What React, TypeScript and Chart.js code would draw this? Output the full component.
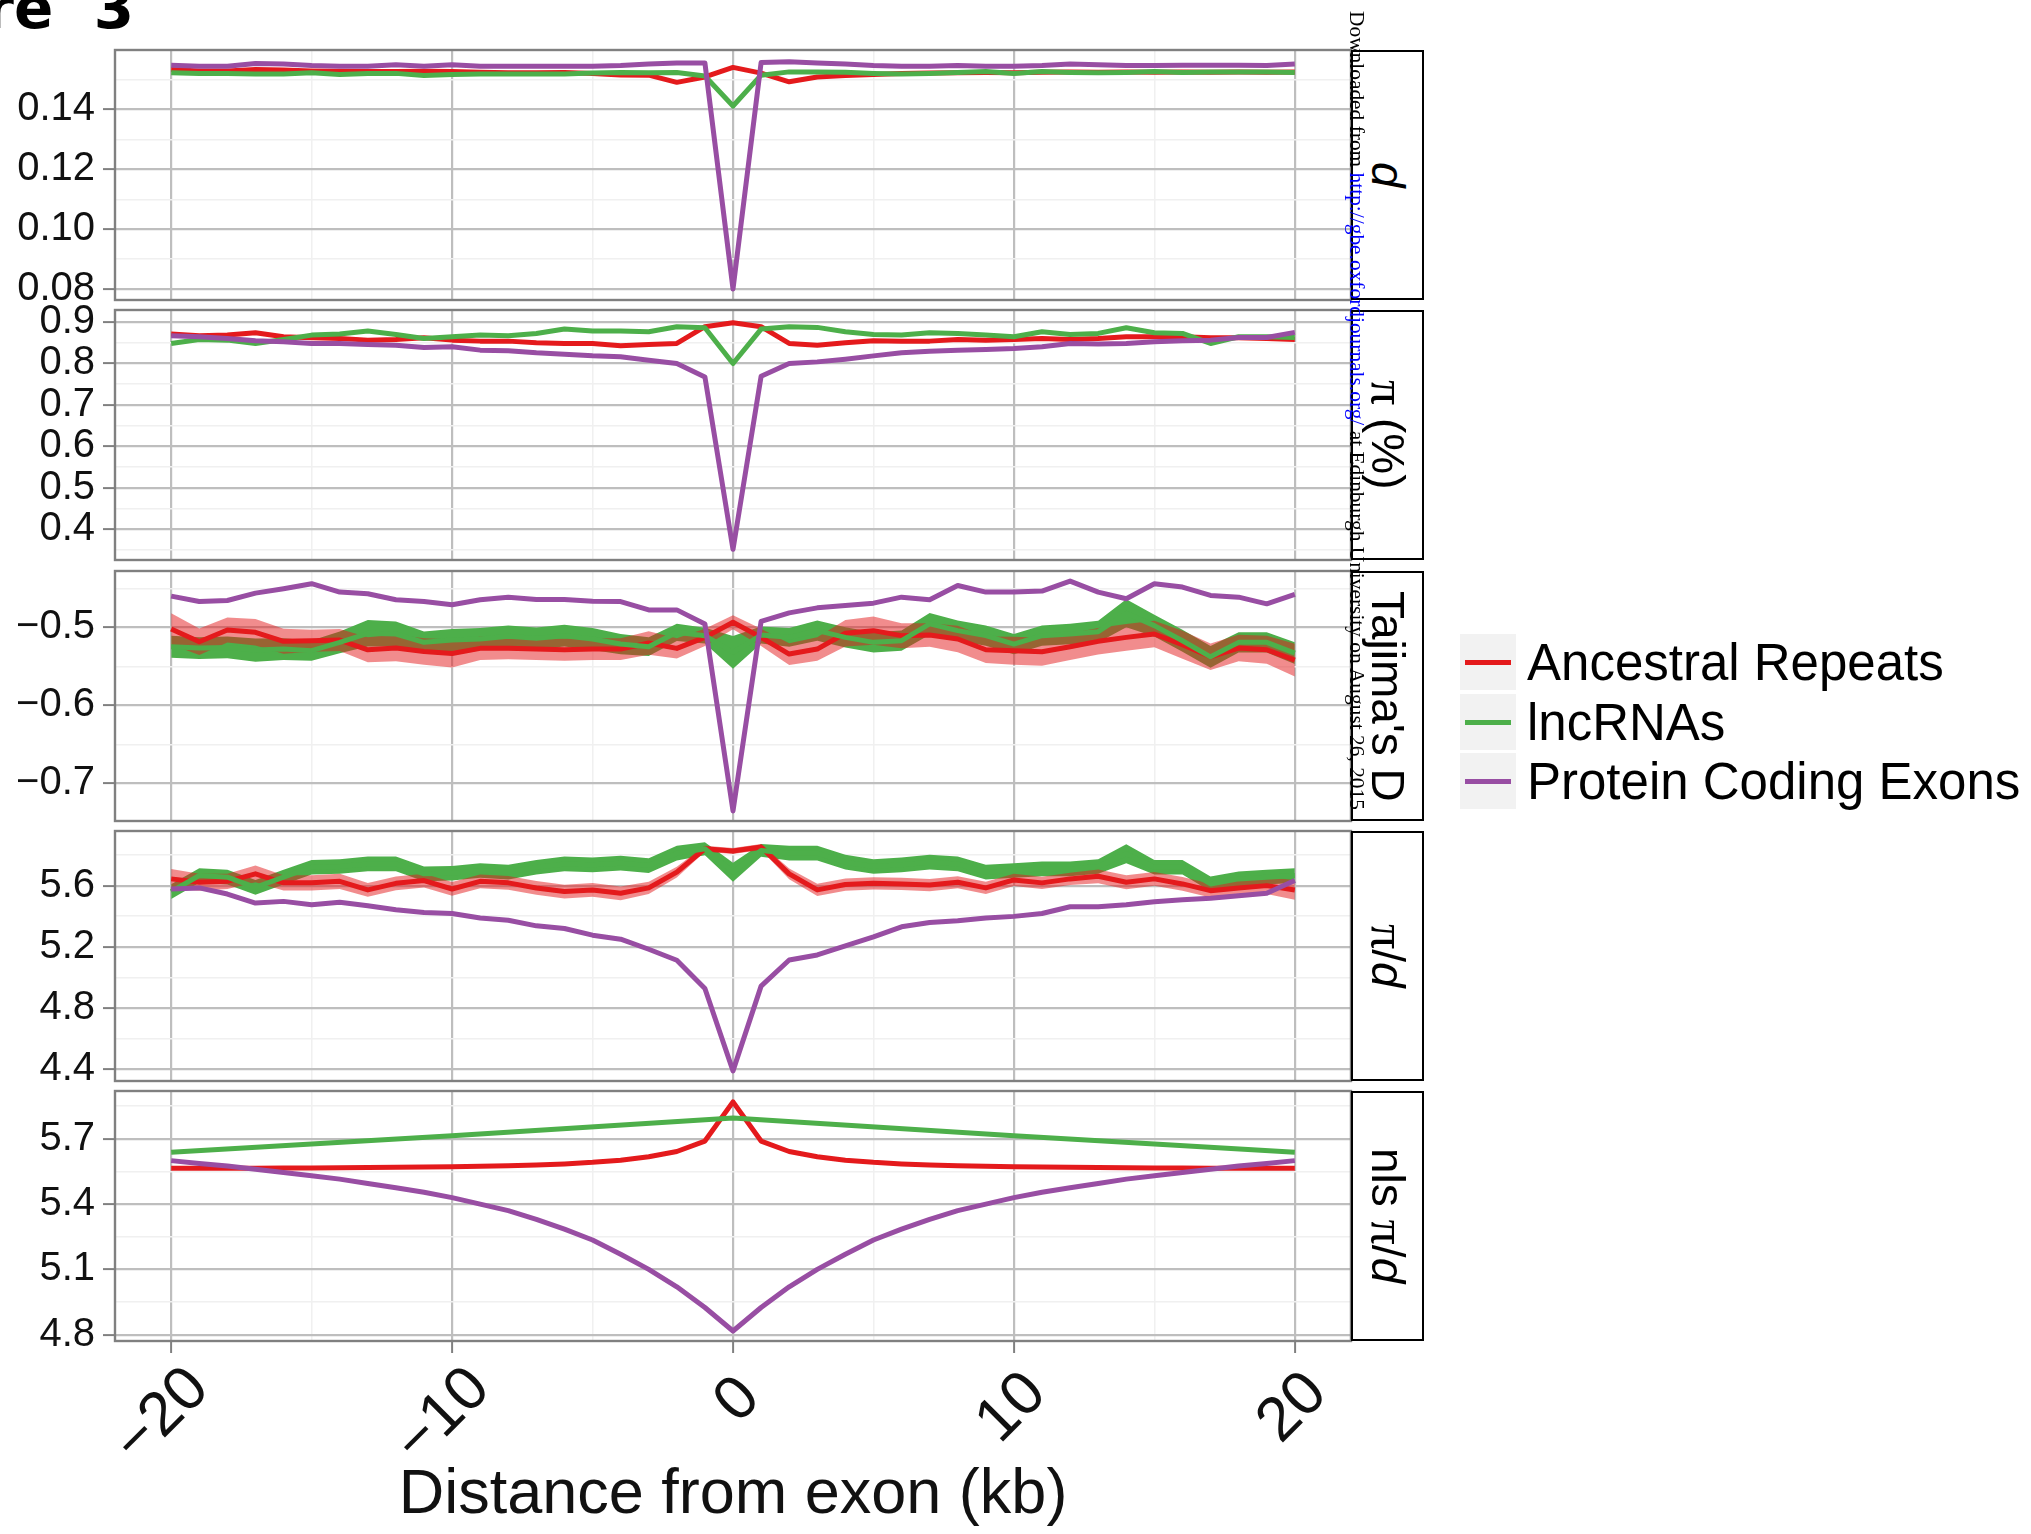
import React, { useEffect, useRef } from "react";
import { Chart, registerables } from "chart.js";
Chart.register(...registerables);

// ---------------- data ----------------
const xKb = [-20,-19,-18,-17,-16,-15,-14,-13,-12,-11,-10,-9,-8,-7,-6,-5,-4,-3,-2,-1,0,1,2,3,4,5,6,7,8,9,10,11,12,13,14,15,16,17,18,19,20];

// d
const dRed = [0.1533,0.1528,0.1528,0.1533,0.1531,0.1528,0.1527,0.1526,0.1526,0.1527,0.1526,0.1524,0.1522,0.1522,0.1523,0.1520,0.1515,0.1514,0.1490,0.1508,0.1540,0.1521,0.1492,0.1508,0.1513,0.1516,0.1520,0.1521,0.1522,0.1523,0.1522,0.1524,0.1525,0.1524,0.1525,0.1524,0.1525,0.1524,0.1525,0.1524,0.1525];
const dGreen = [0.1522,0.1520,0.1520,0.1518,0.1518,0.1522,0.1516,0.1520,0.1520,0.1513,0.1516,0.1518,0.1518,0.1518,0.1518,0.1521,0.1523,0.1522,0.1523,0.1511,0.1411,0.1514,0.1525,0.1525,0.1524,0.1520,0.1518,0.1520,0.1523,0.1526,0.1520,0.1526,0.1523,0.1522,0.1523,0.1526,0.1523,0.1525,0.1525,0.1525,0.1523];
const dPurple = [0.1547,0.1544,0.1544,0.1553,0.1551,0.1546,0.1544,0.1544,0.1549,0.1544,0.1549,0.1544,0.1544,0.1544,0.1544,0.1544,0.1546,0.1551,0.1555,0.1555,0.0801,0.1556,0.1559,0.1555,0.1551,0.1546,0.1544,0.1544,0.1546,0.1544,0.1544,0.1546,0.1551,0.1549,0.1546,0.1546,0.1547,0.1547,0.1547,0.1546,0.1551];

// pi (%)
const piRed = [0.8702,0.8661,0.8677,0.8734,0.8637,0.8613,0.8597,0.8556,0.8573,0.8613,0.8556,0.8532,0.8532,0.8492,0.8476,0.8476,0.8419,0.8452,0.8476,0.8879,0.8976,0.8879,0.8476,0.8435,0.8492,0.8540,0.8532,0.8532,0.8573,0.8556,0.8573,0.8597,0.8573,0.8597,0.8637,0.8637,0.8637,0.8613,0.8613,0.8597,0.8573];
const piGreen = [0.8476,0.8573,0.8556,0.8476,0.8573,0.8677,0.8702,0.8774,0.8694,0.8597,0.8637,0.8677,0.8661,0.8718,0.8823,0.8774,0.8774,0.8758,0.8879,0.8855,0.7992,0.8823,0.8879,0.8863,0.8758,0.8694,0.8677,0.8734,0.8718,0.8677,0.8637,0.8758,0.8694,0.8718,0.8855,0.8734,0.8718,0.8476,0.8637,0.8637,0.8621];
const piPurple = [0.8661,0.8637,0.8597,0.8540,0.8516,0.8476,0.8476,0.8452,0.8435,0.8379,0.8395,0.8315,0.8298,0.8250,0.8218,0.8177,0.8153,0.8073,0.7992,0.7669,0.3516,0.7685,0.7992,0.8032,0.8097,0.8177,0.8250,0.8290,0.8315,0.8331,0.8355,0.8395,0.8476,0.8460,0.8476,0.8516,0.8540,0.8556,0.8621,0.8621,0.8742];

// Tajima's D
const tajRed = [-0.5021,-0.5185,-0.5034,-0.5064,-0.5180,-0.5172,-0.5163,-0.5288,-0.5266,-0.5309,-0.5335,-0.5270,-0.5270,-0.5279,-0.5288,-0.5279,-0.5279,-0.5202,-0.5270,-0.5129,-0.4936,-0.5129,-0.5343,-0.5279,-0.5077,-0.5043,-0.5107,-0.5099,-0.5150,-0.5288,-0.5300,-0.5313,-0.5249,-0.5180,-0.5129,-0.5086,-0.5223,-0.5378,-0.5266,-0.5288,-0.5421];
const tajRedHalf = [0.020,0.017,0.016,0.017,0.016,0.014,0.014,0.016,0.017,0.017,0.018,0.015,0.014,0.014,0.014,0.014,0.014,0.015,0.013,0.011,0.009,0.011,0.014,0.015,0.017,0.018,0.016,0.015,0.017,0.017,0.018,0.018,0.017,0.017,0.017,0.017,0.018,0.017,0.017,0.018,0.021];
const tajGreen = [-0.5249,-0.5266,-0.5258,-0.5292,-0.5279,-0.5300,-0.5193,-0.5077,-0.5086,-0.5193,-0.5163,-0.5150,-0.5116,-0.5142,-0.5107,-0.5150,-0.5215,-0.5249,-0.5064,-0.5107,-0.5322,-0.5099,-0.5129,-0.5043,-0.5129,-0.5193,-0.5172,-0.4957,-0.5043,-0.5107,-0.5215,-0.5107,-0.5086,-0.5056,-0.4820,-0.4979,-0.5172,-0.5378,-0.5193,-0.5193,-0.5330];
const tajGreenHalf = [0.014,0.014,0.014,0.015,0.014,0.013,0.014,0.017,0.016,0.014,0.014,0.014,0.014,0.014,0.014,0.014,0.013,0.012,0.011,0.010,0.021,0.011,0.012,0.013,0.013,0.013,0.013,0.014,0.013,0.013,0.013,0.013,0.013,0.014,0.018,0.014,0.014,0.014,0.013,0.013,0.014];
const tajPurple = [-0.4601,-0.4670,-0.4657,-0.4562,-0.4506,-0.4442,-0.4549,-0.4571,-0.4648,-0.4670,-0.4712,-0.4648,-0.4614,-0.4644,-0.4644,-0.4665,-0.4670,-0.4777,-0.4777,-0.4957,-0.7352,-0.4923,-0.4815,-0.4751,-0.4721,-0.4691,-0.4614,-0.4648,-0.4464,-0.4549,-0.4549,-0.4536,-0.4408,-0.4549,-0.4635,-0.4442,-0.4485,-0.4592,-0.4614,-0.4700,-0.4579];

// pi / d
const pdRed = [5.644,5.622,5.628,5.677,5.618,5.618,5.628,5.572,5.615,5.633,5.578,5.628,5.618,5.585,5.561,5.572,5.550,5.585,5.688,5.841,5.826,5.852,5.677,5.572,5.607,5.615,5.611,5.604,5.622,5.585,5.637,5.618,5.644,5.661,5.622,5.644,5.611,5.567,5.585,5.600,5.572];
const pdRedHalf = [0.065,0.055,0.050,0.055,0.050,0.050,0.050,0.045,0.045,0.045,0.045,0.045,0.045,0.045,0.045,0.045,0.045,0.040,0.035,0.020,0.020,0.020,0.035,0.040,0.040,0.040,0.040,0.040,0.040,0.040,0.040,0.040,0.040,0.045,0.045,0.045,0.045,0.045,0.050,0.055,0.065];
const pdGreen = [5.561,5.666,5.655,5.589,5.655,5.720,5.725,5.742,5.742,5.677,5.681,5.699,5.688,5.720,5.742,5.736,5.747,5.731,5.812,5.841,5.688,5.830,5.812,5.812,5.753,5.725,5.736,5.753,5.742,5.688,5.699,5.709,5.709,5.725,5.808,5.720,5.720,5.611,5.644,5.655,5.666];
const pdGreenHalf = [0.048,0.048,0.048,0.048,0.048,0.048,0.048,0.048,0.048,0.048,0.048,0.048,0.048,0.048,0.048,0.048,0.048,0.048,0.048,0.042,0.062,0.042,0.048,0.048,0.048,0.048,0.048,0.048,0.048,0.048,0.048,0.048,0.048,0.048,0.062,0.048,0.048,0.048,0.048,0.048,0.048];
const pdPurple = [5.578,5.585,5.545,5.486,5.497,5.475,5.491,5.469,5.442,5.425,5.418,5.388,5.374,5.337,5.320,5.276,5.250,5.184,5.112,4.928,4.389,4.943,5.114,5.147,5.206,5.265,5.331,5.359,5.370,5.388,5.399,5.418,5.462,5.462,5.475,5.495,5.508,5.517,5.534,5.550,5.633];

// nls pi / d
const nlsRed = [5.565,5.565,5.565,5.565,5.566,5.566,5.567,5.568,5.569,5.571,5.572,5.574,5.577,5.580,5.585,5.592,5.602,5.618,5.642,5.690,5.870,5.690,5.642,5.618,5.602,5.592,5.585,5.580,5.577,5.574,5.572,5.571,5.569,5.568,5.567,5.566,5.566,5.565,5.565,5.565,5.565];
const nlsPurple = [5.600,5.587,5.575,5.560,5.545,5.530,5.515,5.495,5.475,5.455,5.430,5.400,5.370,5.330,5.285,5.235,5.170,5.100,5.020,4.925,4.817,4.925,5.020,5.100,5.170,5.235,5.285,5.330,5.370,5.400,5.430,5.455,5.475,5.495,5.515,5.530,5.545,5.560,5.575,5.587,5.600];
const nlsGreenX = [-20,-10,0,10,20];
const nlsGreen = [5.638,5.714,5.796,5.714,5.638];

// ticks
const xGridValues = [-20,-15,-10,-5,0,5,10,15,20];
const xTickValues = [-20,-10,0,10,20];
const xTickLabels = ["\u221220","\u221210","0","10","20"];

const dTicks = [0.08,0.10,0.12,0.14];
const dTickLabels = ["0.08","0.10","0.12","0.14"];
const dMinor = [0.09,0.11,0.13,0.15];
const piTicks = [0.4,0.5,0.6,0.7,0.8,0.9];
const piTickLabels = ["0.4","0.5","0.6","0.7","0.8","0.9"];
const piMinor = [0.35,0.45,0.55,0.65,0.75,0.85];
const tajTicks = [-0.7,-0.6,-0.5];
const tajTickLabels = ["\u22120.7","\u22120.6","\u22120.5"];
const tajMinor = [-0.65,-0.55,-0.45];
const pdTicks = [4.4,4.8,5.2,5.6];
const pdTickLabels = ["4.4","4.8","5.2","5.6"];
const pdMinor = [4.6,5.0,5.4,5.8];
const nlsTicks = [4.8,5.1,5.4,5.7];
const nlsTickLabels = ["4.8","5.1","5.4","5.7"];
const nlsMinor = [4.95,5.25,5.55,5.85];

const seriesNames = ["Ancestral Repeats", "lncRNAs", "Protein Coding Exons"];

// ---------------- style / layout ----------------
const PAGE_W = 2031, PAGE_H = 1534;
const PANEL_LEFT = 115, PANEL_RIGHT = 1351, PANEL_H = 250;
const PANEL_TOPS = [50, 310, 571, 831, 1091];
const STRIP_RIGHT = 1424;
const PAD_T = 40, PAD_B = 40, PAD_B_LAST = 192, PAD_R = 6;
const RED = "#E41A1C", GREEN = "#4DAF4A", PURPLE = "#984EA3";
const RED_BAND = "rgba(228,26,28,0.5)", GREEN_BAND = "#4DAF4A";
const MAJOR_GRID = "#BEBEBE", MINOR_GRID = "#F0F0F0", BORDER = "#808080";
const SANS = '"Liberation Sans", Arial, Helvetica, sans-serif';
const SERIF = '"Liberation Serif", "Times New Roman", serif';
const SERIES_COLORS = [RED, GREEN, PURPLE];

type LineSpec = { x: number[]; y: number[]; color: string };
type BandSpec = { x: number[]; lower: number[]; upper: number[]; color: string };
type PanelSpec = {
  yMin: number; yMax: number;
  ticks: number[]; labels: string[]; minor: number[];
  lines: LineSpec[]; bands: BandSpec[];
  last?: boolean;
};

const lo = (v: number[], h: number[]) => v.map((y, i) => y - h[i]);
const hi = (v: number[], h: number[]) => v.map((y, i) => y + h[i]);

const panels: PanelSpec[] = [
  { yMin: 0.0764, yMax: 0.1598, ticks: dTicks, labels: dTickLabels, minor: dMinor, bands: [],
    lines: [{ x: xKb, y: dRed, color: RED }, { x: xKb, y: dGreen, color: GREEN }, { x: xKb, y: dPurple, color: PURPLE }] },
  { yMin: 0.3258, yMax: 0.9282, ticks: piTicks, labels: piTickLabels, minor: piMinor, bands: [],
    lines: [{ x: xKb, y: piRed, color: RED }, { x: xKb, y: piGreen, color: GREEN }, { x: xKb, y: piPurple, color: PURPLE }] },
  { yMin: -0.7481, yMax: -0.4279, ticks: tajTicks, labels: tajTickLabels, minor: tajMinor,
    bands: [
      { x: xKb, lower: lo(tajGreen, tajGreenHalf), upper: hi(tajGreen, tajGreenHalf), color: GREEN_BAND },
      { x: xKb, lower: lo(tajRed, tajRedHalf), upper: hi(tajRed, tajRedHalf), color: RED_BAND },
    ],
    lines: [{ x: xKb, y: tajRed, color: RED }, { x: xKb, y: tajGreen, color: GREEN }, { x: xKb, y: tajPurple, color: PURPLE }] },
  { yMin: 4.323, yMax: 5.957, ticks: pdTicks, labels: pdTickLabels, minor: pdMinor,
    bands: [
      { x: xKb, lower: lo(pdGreen, pdGreenHalf), upper: hi(pdGreen, pdGreenHalf), color: GREEN_BAND },
      { x: xKb, lower: lo(pdRed, pdRedHalf), upper: hi(pdRed, pdRedHalf), color: RED_BAND },
    ],
    lines: [{ x: xKb, y: pdRed, color: RED }, { x: xKb, y: pdGreen, color: GREEN }, { x: xKb, y: pdPurple, color: PURPLE }] },
  { yMin: 4.771, yMax: 5.92, ticks: nlsTicks, labels: nlsTickLabels, minor: nlsMinor, bands: [], last: true,
    lines: [{ x: xKb, y: nlsRed, color: RED }, { x: nlsGreenX, y: nlsGreen, color: GREEN }, { x: xKb, y: nlsPurple, color: PURPLE }] },
];

const near = (a: number, b: number) => Math.abs(a - b) < 1e-9;

function Panel({ spec, top }: { spec: PanelSpec; top: number }) {
  const ref = useRef<HTMLCanvasElement>(null);
  const padB = spec.last ? PAD_B_LAST : PAD_B;
  const W = PANEL_RIGHT + PAD_R;
  const H = PANEL_H + PAD_T + padB;
  useEffect(() => {
    if (!ref.current) return;
    const datasets: any[] = [];
    spec.bands.forEach((b, bi) => {
      const lowerIdx = datasets.length;
      datasets.push({
        data: b.x.map((x, i) => ({ x, y: b.lower[i] })),
        borderColor: "rgba(0,0,0,0)", borderWidth: 0, pointRadius: 0, fill: false, order: 20 - bi * 2,
      });
      datasets.push({
        data: b.x.map((x, i) => ({ x, y: b.upper[i] })),
        borderColor: "rgba(0,0,0,0)", borderWidth: 0, pointRadius: 0, fill: lowerIdx, backgroundColor: b.color, order: 20 - bi * 2,
      });
    });
    spec.lines.forEach((l, li) => {
      datasets.push({
        data: l.x.map((x, i) => ({ x, y: l.y[i] })),
        borderColor: l.color, backgroundColor: l.color, borderWidth: 5, pointRadius: 0, fill: false,
        tension: 0, borderJoinStyle: "round", order: 5 - li,
      });
    });
    const allY = [...spec.ticks, ...spec.minor].sort((a, b) => a - b);
    const isMajorY = (v: number) => spec.ticks.some((m) => near(m, v));
    const isMajorX = (v: number) => xTickValues.some((m) => near(m, v));
    const last = !!spec.last;
    const deco = {
      id: "panelDeco",
      afterDraw(chart: any) {
        const { ctx, chartArea: a } = chart;
        ctx.save();
        ctx.strokeStyle = BORDER;
        ctx.lineWidth = 2.4;
        ctx.strokeRect(a.left, a.top, a.right - a.left, a.bottom - a.top);
        if (last) {
          const xs = chart.scales.x;
          ctx.fillStyle = "#111";
          ctx.font = `62px ${SANS}`;
          xTickValues.forEach((v, i) => {
            const label = xTickLabels[i];
            const L = ctx.measureText(label).width;
            const cx = xs.getPixelForValue(v) + 12 - 0.2 * L;
            const cy = a.bottom + 52 + 0.22 * L;
            ctx.save();
            ctx.translate(cx, cy);
            ctx.rotate(-Math.PI / 4);
            ctx.textAlign = "center";
            ctx.textBaseline = "middle";
            ctx.fillText(label, 0, 0);
            ctx.restore();
          });
          ctx.font = `63px ${SANS}`;
          ctx.textAlign = "center";
          ctx.textBaseline = "alphabetic";
          ctx.fillText("Distance from exon (kb)", (a.left + a.right) / 2, a.bottom + 172);
        }
        ctx.restore();
      },
    };
    const chart = new Chart(ref.current, {
      type: "line",
      data: { datasets },
      options: {
        animation: false,
        responsive: false,
        maintainAspectRatio: false,
        devicePixelRatio: 1,
        layout: { padding: { top: PAD_T, bottom: padB, left: 0, right: PAD_R } },
        plugins: { legend: { display: false }, tooltip: { enabled: false }, title: { display: false } },
        elements: { line: { tension: 0 } },
        scales: {
          x: {
            type: "linear", min: -22, max: 22,
            afterBuildTicks: (s: any) => { s.ticks = xGridValues.map((v) => ({ value: v })); },
            afterFit: (s: any) => { s.height = 0; },
            ticks: { display: false },
            border: { display: false },
            grid: {
              drawTicks: last, tickLength: 12, tickWidth: 2,
              color: (c: any) => (c.tick && !isMajorX(c.tick.value) ? MINOR_GRID : MAJOR_GRID),
              lineWidth: (c: any) => (c.tick && !isMajorX(c.tick.value) ? 1.5 : 2.2),
              tickColor: (c: any) => (c.tick && !isMajorX(c.tick.value) ? "rgba(0,0,0,0)" : BORDER),
            },
          },
          y: {
            type: "linear", position: "left", min: spec.yMin, max: spec.yMax,
            afterBuildTicks: (s: any) => { s.ticks = allY.map((v) => ({ value: v })); },
            afterFit: (s: any) => { s.width = PANEL_LEFT; },
            border: { display: false },
            ticks: {
              autoSkip: false, padding: 8, color: "#111",
              font: { family: SANS, size: 40 },
              callback: (v: any) => {
                const i = spec.ticks.findIndex((m) => near(m, Number(v)));
                return i >= 0 ? spec.labels[i] : "";
              },
            },
            grid: {
              drawTicks: true, tickLength: 12, tickWidth: 2,
              color: (c: any) => (c.tick && !isMajorY(c.tick.value) ? MINOR_GRID : MAJOR_GRID),
              lineWidth: (c: any) => (c.tick && !isMajorY(c.tick.value) ? 1.5 : 2.2),
              tickColor: (c: any) => (c.tick && !isMajorY(c.tick.value) ? "rgba(0,0,0,0)" : BORDER),
            },
          },
        },
      } as any,
      plugins: [deco],
    });
    return () => chart.destroy();
  }, []);
  return (
    <canvas
      ref={ref}
      width={W}
      height={H}
      style={{ position: "absolute", left: 0, top: top - PAD_T, width: W, height: H }}
    />
  );
}

const stripLabels = [
  <span style={{ fontStyle: "italic" }}>d</span>,
  <span><span style={{ fontFamily: SERIF, fontSize: 50 }}>π</span> (%)</span>,
  <span>Tajima's D</span>,
  <span><span style={{ fontFamily: SERIF, fontSize: 50 }}>π</span>/<span style={{ fontStyle: "italic" }}>d</span></span>,
  <span>nls <span style={{ fontFamily: SERIF, fontSize: 50 }}>π</span>/<span style={{ fontStyle: "italic" }}>d</span></span>,
];

export default function App() {
  return (
    <div style={{ position: "absolute", left: 0, top: 0, width: PAGE_W, height: PAGE_H, overflow: "hidden", background: "#fff" }}>
      {panels.map((p, i) => (
        <Panel key={i} spec={p} top={PANEL_TOPS[i]} />
      ))}
      {PANEL_TOPS.map((t, i) => (
        <div
          key={"s" + i}
          style={{
            position: "absolute", left: PANEL_RIGHT, top: t, width: STRIP_RIGHT - PANEL_RIGHT, height: PANEL_H,
            boxSizing: "border-box", border: "2px solid #000", background: "#fff",
            display: "flex", alignItems: "center", justifyContent: "center",
          }}
        >
          <div style={{ writingMode: "vertical-rl", fontFamily: SANS, fontSize: 46, lineHeight: "46px", color: "#000", whiteSpace: "nowrap" }}>
            {stripLabels[i]}
          </div>
        </div>
      ))}
      {seriesNames.map((n, i) => (
        <React.Fragment key={"l" + i}>
          <div style={{ position: "absolute", left: 1460, top: 634 + i * 59.5, width: 56, height: 56, background: "#F2F2F2" }}>
            <div style={{ position: "absolute", left: 5, right: 5, top: 26, height: 5, background: SERIES_COLORS[i] }} />
          </div>
          <div style={{ position: "absolute", left: 1527, top: 637 + i * 59.5, height: 51, fontFamily: SANS, fontSize: 51, lineHeight: "51px", whiteSpace: "nowrap", color: "#000" }}>
            {n}
          </div>
        </React.Fragment>
      ))}
      <div style={{ position: "absolute", right: PAGE_W - 134, top: -21, fontFamily: '"DejaVu Sans", sans-serif', fontWeight: "bold", fontSize: 58, lineHeight: "58px", whiteSpace: "pre", color: "#000" }}>
        {"Figure  3"}
      </div>
      <div style={{ position: "absolute", left: 1346, top: 11, width: 21, writingMode: "vertical-rl", fontFamily: SERIF, fontSize: 21.4, lineHeight: "21px", whiteSpace: "nowrap", color: "#000" }}>
        Downloaded from <span style={{ color: "#0000FF" }}>http://gbe.oxfordjournals.org/</span> at Edinburgh University on August 26, 2015
      </div>
    </div>
  );
}
